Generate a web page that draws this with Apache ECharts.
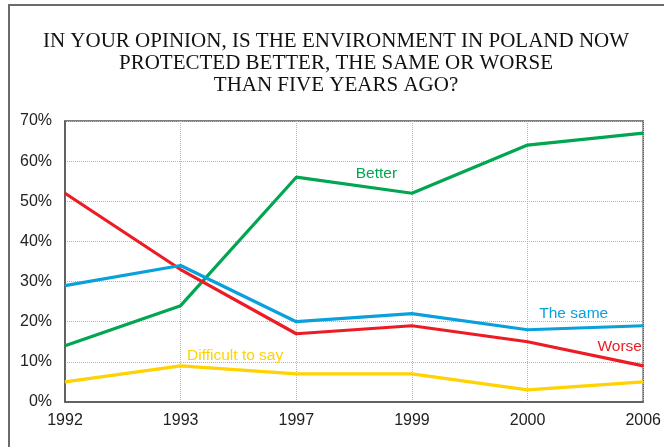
<!DOCTYPE html>
<html>
<head>
<meta charset="utf-8">
<script src="https://cdn.jsdelivr.net/npm/echarts@6/dist/echarts.min.js"></script>
<style>html,body{margin:0;padding:0;background:#fff;}#c{width:664px;height:447px;}</style>
</head>
<body>
<div id="c"></div>
<script>
var years = ['1992', '1993', '1997', '1999', '2000', '2006'];
var better = [14, 24, 56, 52, 64, 67];
var worse = [52, 33, 17, 19, 15, 9];
var same = [29, 34, 20, 22, 18, 19];
var difficult = [5, 9, 7, 7, 3, 5];
var yTicks = [0, 10, 20, 30, 40, 50, 60, 70];
var titleLines = ['IN YOUR OPINION, IS THE ENVIRONMENT IN POLAND NOW', 'PROTECTED BETTER, THE SAME OR WORSE', 'THAN FIVE YEARS AGO?'];

var chart = echarts.init(document.getElementById('c'), null, {renderer: 'canvas'});

function withLabel(arr, idx, text, color, offset) {
  return arr.map(function (v, i) {
    if (i !== idx) return v;
    return {
      value: v,
      label: {
        show: true, formatter: text, position: offset, align: 'center', verticalAlign: 'middle',
        color: color, fontSize: 15.5, fontFamily: 'Liberation Sans, Arial, sans-serif'
      }
    };
  });
}

function mk(name, arr, color, idx, text, offset) {
  return {
    name: name, type: 'line', data: withLabel(arr, idx, text, color, offset),
    symbol: 'circle', symbolSize: 1, showSymbol: true, showAllSymbol: true,
    lineStyle: {color: color, width: 3.2},
    itemStyle: {color: color},
    label: {show: false},
    animation: false, z: 3
  };
}

chart.setOption({
  animation: false,
  backgroundColor: '#fff',
  graphic: [
    {type: 'rect', shape: {x: 9, y: 5, width: 700, height: 500}, style: {fill: 'none', stroke: '#6b6b6b', lineWidth: 2}, z: 0},
    {type: 'text', x: 336, y: 30, style: {
      text: titleLines.join('\n'), textAlign: 'center', fill: '#111',
      font: '21px "Liberation Serif", "Times New Roman", serif', lineHeight: 22
    }}
  ],
  grid: {left: 65, right: 18, top: 121, bottom: 45, show: true, borderColor: '#555', borderWidth: 1.5, backgroundColor: 'transparent'},
  xAxis: {
    type: 'category', data: years, boundaryGap: false,
    axisLine: {show: true, lineStyle: {color: '#555', width: 1.5}},
    axisTick: {show: false},
    axisLabel: {color: '#222', fontSize: 16, fontFamily: 'Liberation Sans, Arial, sans-serif', margin: 11, interval: 0},
    splitLine: {show: true, lineStyle: {color: '#b5b5b5', type: 'dotted', width: 1}}
  },
  yAxis: {
    type: 'value', min: 0, max: 70, interval: 10,
    axisLine: {show: true, lineStyle: {color: '#555', width: 1.5}},
    axisTick: {show: false},
    axisLabel: {color: '#222', fontSize: 16, fontFamily: 'Liberation Sans, Arial, sans-serif', margin: 13,
      formatter: function (v) { return yTicks.indexOf(v) >= 0 ? v + '%' : ''; }},
    splitLine: {show: true, lineStyle: {color: '#b5b5b5', type: 'dotted', width: 1}}
  },
  series: [
    mk('Difficult to say', difficult, '#ffd200', 1, 'Difficult to say', [55, -10]),
    mk('Better', better, '#00a651', 3, 'Better', [-35, -19]),
    mk('Worse', worse, '#ed1c24', 5, 'Worse', [-23, -19]),
    mk('The same', same, '#0aa0dc', 5, 'The same', [-69, -12])
  ]
});
</script>
</body>
</html>
